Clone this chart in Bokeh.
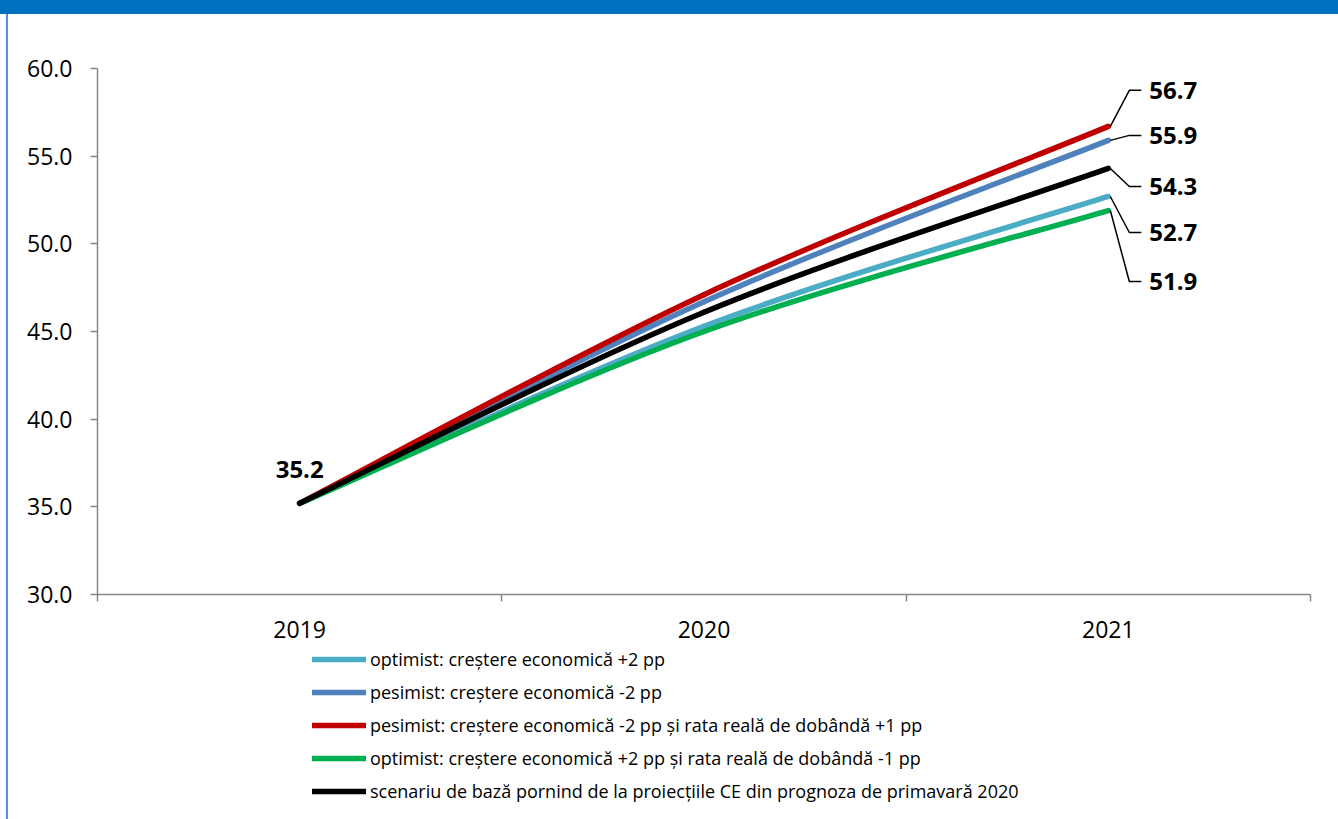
from bokeh.plotting import figure
from bokeh.models import (FixedTicker, Legend, LegendItem, Range1d, Div,
                          NumeralTickFormatter, ColumnDataSource)
from bokeh.layouts import column, row
from bokeh.embed import file_html
from bokeh.resources import INLINE
from bokeh.core.properties import value

# ---------------- data ----------------
years = ["2019", "2020", "2021"]
series_names = [
    "optimist: creștere economică +2 pp",
    "pesimist: creștere economică -2 pp",
    "pesimist: creștere economică -2 pp și rata reală de dobândă +1 pp",
    "optimist: creștere economică +2 pp și rata reală de dobândă -1 pp",
    "scenariu de bază pornind de la proiecțiile CE din prognoza de primavară 2020",
]
optimist = [35.2, 45.3, 52.7]
pesimist = [35.2, 46.7, 55.9]
pesimist_dob = [35.2, 47.1, 56.7]
optimist_dob = [35.2, 45.0, 51.9]
baza = [35.2, 46.1, 54.3]
series_values = [optimist, pesimist, pesimist_dob, optimist_dob, baza]
colors = ["#4BACC6", "#4F81BD", "#C00000", "#00B050", "#000000"]

# pixel offsets of the end labels relative to each series' end point (layout)
end_label_dy_px = [36, -5, -36, 71, 18]

FONT = "Open Sans"
FRAME_W, FRAME_H = 1213, 526
Y0, Y1 = 30, 60
X0, X1 = 0, 3
PX_Y = FRAME_H / (Y1 - Y0)
PX_X = FRAME_W / (X1 - X0)
LEFT_PAD = 8
TOP_BAR = 14
BORDER_TOP = 54
BORDER_BOTTOM = 50

p = figure(width=1322, height=BORDER_TOP + FRAME_H + BORDER_BOTTOM,
           frame_width=FRAME_W, frame_height=FRAME_H,
           x_range=Range1d(X0, X1), y_range=Range1d(Y0, Y1),
           output_backend="svg", toolbar_location=None,
           min_border_left=97 - LEFT_PAD, min_border_top=BORDER_TOP,
           min_border_right=12, min_border_bottom=BORDER_BOTTOM)
p.outline_line_color = None
p.grid.grid_line_color = None
p.background_fill_color = "white"
p.border_fill_color = "white"

xs = [i + 0.5 for i in range(len(years))]


def smooth_segments(x, y):
    """Excel-like smoothed line: cubic Bezier control points."""
    n = len(x)
    segs = dict(x0=[], y0=[], x1=[], y1=[], cx0=[], cy0=[], cx1=[], cy1=[])
    for i in range(n - 1):
        im1 = max(i - 1, 0)
        ip2 = min(i + 2, n - 1)
        segs["x0"].append(x[i]); segs["y0"].append(y[i])
        segs["x1"].append(x[i + 1]); segs["y1"].append(y[i + 1])
        segs["cx0"].append(x[i] + (x[i + 1] - x[im1]) / 6)
        segs["cy0"].append(y[i] + (y[i + 1] - y[im1]) / 6)
        segs["cx1"].append(x[i + 1] - (x[ip2] - x[i]) / 6)
        segs["cy1"].append(y[i + 1] - (y[ip2] - y[i]) / 6)
    return segs


for vals, col in zip(series_values, colors):
    src = ColumnDataSource(smooth_segments(xs, vals))
    p.bezier(x0="x0", y0="y0", x1="x1", y1="y1", cx0="cx0", cy0="cy0",
             cx1="cx1", cy1="cy1", source=src, line_color=col,
             line_width=5.5, line_cap="round")

# start label
p.text(x=[xs[0]], y=[optimist[0]], text=["%.1f" % optimist[0]],
       text_font=value(FONT), text_font_style="bold", text_font_size="24px",
       text_align="center", text_baseline="middle", y_offset=-34,
       text_color="black")

# end labels with leader lines
end_vals = [s[-1] for s in series_values]
lx, ly, lt, lead_xs, lead_ys = [], [], [], [], []
for v, dy in zip(end_vals, end_label_dy_px):
    ylab = v - dy / PX_Y
    xe = xs[-1] + 2 / PX_X
    lead_xs.append([xe, xs[-1] + 21 / PX_X, xs[-1] + 33 / PX_X])
    lead_ys.append([v, ylab, ylab])
    lx.append(xs[-1]); ly.append(ylab); lt.append("%.1f" % v)
p.multi_line(xs=lead_xs, ys=lead_ys, line_color="black", line_width=1.5)
p.text(x=lx, y=ly, text=lt, x_offset=41, text_font=value(FONT),
       text_font_style="bold", text_font_size="24px", text_align="left",
       text_baseline="middle", text_color="black")

# axes
AX_COL = "#868686"
p.yaxis.ticker = FixedTicker(ticks=list(range(Y0, Y1 + 1, 5)))
p.yaxis.formatter = NumeralTickFormatter(format="0.0")
p.yaxis.minor_tick_line_color = None
p.yaxis.major_tick_out = 7
p.yaxis.major_tick_in = 0
p.yaxis.major_label_standoff = 18

p.xaxis.ticker = FixedTicker(ticks=xs, minor_ticks=list(range(X0, X1 + 1)))
p.xaxis.major_label_overrides = {x: y for x, y in zip(xs, years)}
p.xaxis.major_tick_out = 0
p.xaxis.major_tick_in = 0
p.xaxis.minor_tick_out = 7
p.xaxis.minor_tick_in = 0
p.xaxis.major_label_standoff = 19

for ax in (p.xaxis[0], p.yaxis[0]):
    ax.axis_line_color = AX_COL
    ax.axis_line_width = 1.5
    ax.major_tick_line_color = AX_COL
    ax.major_tick_line_width = 1.5
    ax.minor_tick_line_color = AX_COL if ax is p.xaxis[0] else None
    ax.minor_tick_line_width = 1.5
    ax.major_label_text_font = FONT
    ax.major_label_text_font_size = "23px"
    ax.major_label_text_color = "black"

# ---------------- legend (separate strip below the chart) ----------------
LEG_H = 819 - TOP_BAR - (BORDER_TOP + FRAME_H + BORDER_BOTTOM)
ROW_TEXT_H, ROW_SPACING = 25, 9
leg_h = 5 * ROW_TEXT_H + 4 * ROW_SPACING
pl = figure(width=1322, height=LEG_H, x_range=Range1d(X0, X1),
            y_range=Range1d(Y0, Y1), output_backend="svg",
            toolbar_location=None, min_border=0,
            x_axis_location=None, y_axis_location=None)
pl.grid.grid_line_color = None
pl.outline_line_color = None
items = []
for name, vals, col in zip(series_names, series_values, colors):
    r = pl.line(x=xs, y=vals, line_color=col, line_width=5.5,
                line_cap="round", visible=False)
    items.append(LegendItem(label=name, renderers=[r]))
# the legend strip's frame is aligned with the chart's frame (x = 97)
legend = Legend(items=items, location=(312 - 97, LEG_H - leg_h + 2),
                orientation="vertical", click_policy="none",
                padding=0, margin=0, border_line_color=None,
                background_fill_alpha=0, inactive_fill_alpha=0,
                glyph_width=54, glyph_height=20,
                label_height=20, spacing=ROW_SPACING, label_standoff=4,
                label_text_font=FONT, label_text_font_size="18px",
                label_text_color="black")
pl.add_layout(legend, "center")

top_bar = Div(text="", width=1338, height=TOP_BAR, margin=0,
              styles={"background-color": "#0070C0"})
gap = Div(text="", width=6, height=10, margin=0)
side = Div(text="", width=2, height=819 - TOP_BAR, margin=0,
           styles={"background-color": "#5B8ED8"})
layout = column(top_bar, row(gap, side, column(p, pl, spacing=0), spacing=0),
                spacing=0)

open("out.html", "w").write(file_html(layout, INLINE))
